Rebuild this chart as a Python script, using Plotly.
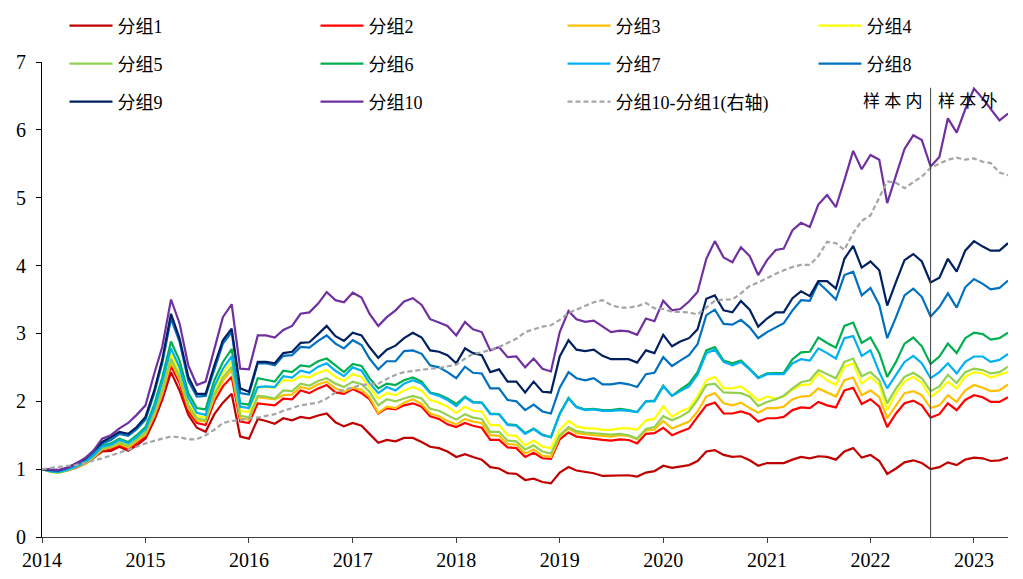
import plotly.graph_objects as go
import pandas as pd

months = [d.strftime("%Y-%m-%d") for d in pd.date_range("2014-01-01", periods=113, freq="MS")]

g1 = [1.00, 0.98, 0.97, 0.99, 1.03, 1.08, 1.17, 1.26, 1.27, 1.33, 1.27, 1.35,
      1.45, 1.72, 2.02, 2.43, 2.16, 1.80, 1.61, 1.55, 1.81, 1.98, 2.11, 1.48,
      1.45, 1.74, 1.71, 1.67, 1.75, 1.72, 1.77, 1.75, 1.79, 1.82, 1.69, 1.63,
      1.68, 1.64, 1.52, 1.39, 1.43, 1.41, 1.46, 1.46, 1.40, 1.33, 1.31, 1.26,
      1.18, 1.22, 1.18, 1.14, 1.03, 1.01, 0.94, 0.93, 0.84, 0.86, 0.81, 0.79,
      0.95, 1.03, 0.98, 0.96, 0.94, 0.90, 0.90, 0.91, 0.91, 0.89, 0.95, 0.97,
      1.05, 1.02, 1.04, 1.06, 1.12, 1.26, 1.28, 1.21, 1.18, 1.19, 1.13, 1.05,
      1.09, 1.09, 1.09, 1.14, 1.18, 1.16, 1.19, 1.18, 1.14, 1.26, 1.31, 1.17,
      1.21, 1.12, 0.93, 1.01, 1.10, 1.13, 1.09, 1.00, 1.03, 1.10, 1.06, 1.14,
      1.17, 1.16, 1.12, 1.13, 1.17]
g2 = [1.00, 0.97, 0.96, 0.98, 1.02, 1.08, 1.16, 1.28, 1.30, 1.35, 1.30, 1.39,
      1.48, 1.76, 2.07, 2.52, 2.27, 1.86, 1.68, 1.65, 2.00, 2.22, 2.36, 1.70,
      1.68, 1.97, 1.96, 1.94, 2.04, 2.03, 2.16, 2.12, 2.19, 2.24, 2.13, 2.11,
      2.18, 2.12, 2.03, 1.82, 1.90, 1.88, 1.94, 1.97, 1.92, 1.78, 1.74, 1.66,
      1.62, 1.68, 1.64, 1.61, 1.43, 1.43, 1.32, 1.31, 1.18, 1.24, 1.16, 1.15,
      1.44, 1.54, 1.48, 1.46, 1.44, 1.43, 1.42, 1.44, 1.43, 1.38, 1.52, 1.53,
      1.61, 1.50, 1.55, 1.60, 1.77, 1.94, 1.98, 1.82, 1.82, 1.85, 1.81, 1.70,
      1.75, 1.75, 1.77, 1.87, 1.91, 1.90, 1.99, 1.94, 1.91, 2.16, 2.20, 1.96,
      2.03, 1.92, 1.62, 1.82, 1.97, 2.01, 1.94, 1.76, 1.81, 1.97, 1.87, 2.02,
      2.09, 2.06, 1.99, 1.99, 2.06]
g3 = [1.00, 0.96, 0.95, 0.98, 1.03, 1.08, 1.17, 1.29, 1.32, 1.37, 1.32, 1.41,
      1.51, 1.79, 2.11, 2.58, 2.32, 1.90, 1.72, 1.70, 2.06, 2.30, 2.46, 1.75,
      1.73, 2.06, 2.05, 2.03, 2.09, 2.10, 2.21, 2.18, 2.25, 2.29, 2.19, 2.14,
      2.20, 2.17, 2.06, 1.83, 1.92, 1.90, 1.98, 2.03, 1.96, 1.82, 1.78, 1.71,
      1.66, 1.74, 1.70, 1.68, 1.50, 1.49, 1.37, 1.36, 1.23, 1.29, 1.20, 1.18,
      1.48, 1.60, 1.53, 1.51, 1.50, 1.49, 1.48, 1.50, 1.49, 1.44, 1.57, 1.58,
      1.71, 1.60, 1.65, 1.70, 1.85, 2.07, 2.12, 1.97, 1.94, 1.98, 1.90, 1.83,
      1.90, 1.90, 1.92, 2.03, 2.07, 2.08, 2.19, 2.13, 2.07, 2.31, 2.35, 2.09,
      2.16, 2.06, 1.75, 1.94, 2.12, 2.15, 2.09, 1.90, 1.94, 2.09, 1.99, 2.16,
      2.24, 2.20, 2.15, 2.16, 2.25]
g4 = [1.00, 0.97, 0.96, 0.99, 1.04, 1.10, 1.19, 1.32, 1.35, 1.41, 1.36, 1.45,
      1.57, 1.86, 2.22, 2.71, 2.44, 1.98, 1.78, 1.76, 2.16, 2.42, 2.58, 1.86,
      1.84, 2.21, 2.21, 2.20, 2.31, 2.30, 2.37, 2.35, 2.42, 2.46, 2.36, 2.30,
      2.40, 2.36, 2.21, 2.04, 2.12, 2.09, 2.16, 2.21, 2.16, 2.02, 1.98, 1.92,
      1.83, 1.92, 1.86, 1.85, 1.65, 1.65, 1.50, 1.49, 1.35, 1.42, 1.33, 1.31,
      1.58, 1.71, 1.63, 1.60, 1.60, 1.58, 1.58, 1.60, 1.60, 1.58, 1.72, 1.74,
      1.93, 1.77, 1.85, 1.90, 2.07, 2.31, 2.36, 2.19, 2.19, 2.22, 2.12, 2.01,
      2.07, 2.04, 2.07, 2.17, 2.24, 2.25, 2.41, 2.31, 2.24, 2.51, 2.56, 2.26,
      2.36, 2.24, 1.87, 2.12, 2.29, 2.36, 2.27, 2.06, 2.16, 2.29, 2.19, 2.36,
      2.43, 2.41, 2.35, 2.39, 2.43]
g5 = [1.00, 0.96, 0.95, 0.98, 1.03, 1.09, 1.18, 1.30, 1.33, 1.39, 1.34, 1.43,
      1.54, 1.82, 2.16, 2.63, 2.37, 1.94, 1.75, 1.72, 2.10, 2.35, 2.51, 1.79,
      1.76, 2.08, 2.07, 2.04, 2.16, 2.15, 2.26, 2.23, 2.30, 2.34, 2.26, 2.21,
      2.29, 2.25, 2.14, 1.94, 2.03, 2.00, 2.04, 2.08, 2.04, 1.89, 1.86, 1.80,
      1.73, 1.81, 1.76, 1.74, 1.55, 1.55, 1.42, 1.41, 1.29, 1.35, 1.26, 1.23,
      1.50, 1.62, 1.56, 1.54, 1.53, 1.52, 1.51, 1.52, 1.50, 1.45, 1.59, 1.62,
      1.78, 1.72, 1.77, 1.85, 2.02, 2.24, 2.26, 2.13, 2.12, 2.12, 2.07, 1.93,
      1.99, 2.03, 2.08, 2.19, 2.28, 2.31, 2.46, 2.40, 2.34, 2.58, 2.63, 2.37,
      2.43, 2.31, 1.97, 2.19, 2.36, 2.42, 2.34, 2.15, 2.22, 2.39, 2.27, 2.43,
      2.48, 2.46, 2.41, 2.43, 2.51]
g6 = [1.00, 0.97, 0.96, 1.00, 1.05, 1.11, 1.22, 1.35, 1.38, 1.45, 1.40, 1.50,
      1.62, 1.95, 2.35, 2.88, 2.60, 2.12, 1.90, 1.88, 2.31, 2.58, 2.77, 1.97,
      1.95, 2.34, 2.32, 2.29, 2.45, 2.43, 2.53, 2.51, 2.59, 2.63, 2.53, 2.43,
      2.55, 2.52, 2.34, 2.19, 2.26, 2.24, 2.31, 2.35, 2.29, 2.13, 2.10, 2.04,
      1.96, 2.07, 1.99, 1.98, 1.82, 1.81, 1.66, 1.65, 1.53, 1.60, 1.51, 1.47,
      1.82, 2.05, 1.92, 1.88, 1.89, 1.87, 1.87, 1.89, 1.87, 1.84, 2.00, 2.01,
      2.23, 2.08, 2.17, 2.26, 2.43, 2.75, 2.80, 2.60, 2.56, 2.60, 2.48, 2.35,
      2.41, 2.41, 2.42, 2.62, 2.72, 2.73, 2.94, 2.86, 2.79, 3.11, 3.16, 2.86,
      2.94, 2.71, 2.36, 2.58, 2.85, 2.94, 2.81, 2.55, 2.66, 2.85, 2.71, 2.93,
      3.01, 2.99, 2.91, 2.93, 3.01]
g7 = [1.00, 0.97, 0.96, 0.99, 1.04, 1.10, 1.20, 1.33, 1.36, 1.43, 1.38, 1.47,
      1.59, 1.90, 2.28, 2.78, 2.50, 2.05, 1.83, 1.80, 2.22, 2.48, 2.66, 1.92,
      1.90, 2.21, 2.22, 2.21, 2.37, 2.35, 2.45, 2.42, 2.51, 2.56, 2.45, 2.37,
      2.50, 2.45, 2.27, 2.12, 2.21, 2.16, 2.26, 2.31, 2.26, 2.12, 2.08, 2.02,
      1.93, 2.06, 1.98, 1.98, 1.81, 1.81, 1.65, 1.64, 1.52, 1.59, 1.50, 1.47,
      1.81, 2.04, 1.91, 1.87, 1.88, 1.86, 1.86, 1.87, 1.86, 1.84, 2.00, 2.00,
      2.22, 2.08, 2.15, 2.22, 2.39, 2.71, 2.76, 2.58, 2.53, 2.58, 2.47, 2.34,
      2.40, 2.40, 2.40, 2.56, 2.62, 2.60, 2.78, 2.71, 2.63, 2.93, 2.96, 2.67,
      2.75, 2.43, 2.19, 2.39, 2.58, 2.67, 2.56, 2.34, 2.43, 2.56, 2.41, 2.58,
      2.66, 2.66, 2.58, 2.61, 2.70]
g8 = [1.00, 0.98, 0.98, 1.02, 1.07, 1.14, 1.25, 1.38, 1.43, 1.52, 1.49, 1.59,
      1.73, 2.12, 2.56, 3.22, 2.88, 2.30, 2.07, 2.08, 2.48, 2.85, 3.02, 2.12,
      2.10, 2.56, 2.56, 2.53, 2.67, 2.68, 2.80, 2.79, 2.89, 2.97, 2.85, 2.78,
      2.90, 2.83, 2.63, 2.47, 2.59, 2.59, 2.74, 2.75, 2.70, 2.53, 2.50, 2.43,
      2.34, 2.51, 2.42, 2.41, 2.19, 2.19, 2.02, 2.00, 1.87, 1.95, 1.85, 1.82,
      2.20, 2.43, 2.34, 2.31, 2.34, 2.25, 2.25, 2.27, 2.25, 2.21, 2.40, 2.42,
      2.65, 2.52, 2.60, 2.68, 2.84, 3.27, 3.35, 3.14, 3.13, 3.20, 3.09, 2.93,
      3.02, 3.09, 3.15, 3.34, 3.49, 3.48, 3.75, 3.63, 3.50, 3.86, 3.91, 3.56,
      3.67, 3.42, 2.93, 3.24, 3.56, 3.66, 3.54, 3.25, 3.39, 3.59, 3.38, 3.68,
      3.80, 3.73, 3.65, 3.67, 3.78]
g9 = [1.00, 0.99, 0.98, 1.02, 1.08, 1.15, 1.27, 1.40, 1.47, 1.55, 1.52, 1.62,
      1.77, 2.16, 2.61, 3.29, 2.93, 2.36, 2.11, 2.11, 2.53, 2.90, 3.07, 2.19,
      2.14, 2.58, 2.58, 2.56, 2.71, 2.73, 2.86, 2.87, 2.99, 3.11, 2.96, 2.89,
      3.01, 2.97, 2.80, 2.64, 2.76, 2.82, 2.93, 3.01, 2.94, 2.75, 2.73, 2.68,
      2.56, 2.78, 2.71, 2.68, 2.43, 2.47, 2.29, 2.29, 2.13, 2.29, 2.14, 2.13,
      2.66, 2.90, 2.76, 2.74, 2.76, 2.67, 2.62, 2.62, 2.62, 2.57, 2.75, 2.71,
      2.98, 2.81, 2.88, 2.93, 3.06, 3.51, 3.56, 3.34, 3.31, 3.48, 3.35, 3.10,
      3.22, 3.31, 3.31, 3.52, 3.62, 3.55, 3.77, 3.77, 3.66, 4.10, 4.29, 3.97,
      4.06, 3.93, 3.41, 3.76, 4.08, 4.17, 4.06, 3.75, 3.82, 4.10, 3.91, 4.22,
      4.36, 4.28, 4.22, 4.22, 4.33]
g10 = [1.00, 0.99, 0.99, 1.02, 1.08, 1.16, 1.27, 1.45, 1.50, 1.60, 1.68, 1.80,
       1.94, 2.41, 2.80, 3.50, 3.15, 2.53, 2.24, 2.29, 2.78, 3.24, 3.43, 2.48,
       2.47, 2.97, 2.97, 2.94, 3.05, 3.11, 3.29, 3.31, 3.44, 3.61, 3.49, 3.46,
       3.60, 3.53, 3.29, 3.11, 3.24, 3.34, 3.47, 3.52, 3.42, 3.21, 3.16, 3.11,
       2.97, 3.17, 3.06, 3.02, 2.75, 2.80, 2.65, 2.66, 2.50, 2.63, 2.48, 2.44,
       3.02, 3.33, 3.21, 3.17, 3.19, 3.11, 3.02, 3.04, 3.03, 2.98, 3.22, 3.18,
       3.48, 3.34, 3.36, 3.47, 3.61, 4.10, 4.36, 4.12, 4.05, 4.27, 4.14, 3.86,
       4.08, 4.23, 4.25, 4.52, 4.63, 4.57, 4.90, 5.04, 4.86, 5.26, 5.69, 5.42,
       5.63, 5.56, 4.92, 5.33, 5.72, 5.92, 5.85, 5.46, 5.60, 6.17, 5.96, 6.30,
       6.61, 6.46, 6.30, 6.14, 6.24]
spread = [1.00, 1.02, 1.04, 1.05, 1.06, 1.09, 1.12, 1.16, 1.20, 1.24, 1.28, 1.33,
          1.38, 1.42, 1.45, 1.48, 1.47, 1.44, 1.44, 1.50, 1.58, 1.68, 1.71, 1.72,
          1.75, 1.76, 1.78, 1.81, 1.86, 1.90, 1.94, 1.96, 1.98, 2.04, 2.13, 2.17,
          2.21, 2.24, 2.25, 2.26, 2.33, 2.39, 2.43, 2.45, 2.47, 2.48, 2.49, 2.51,
          2.54, 2.63, 2.70, 2.72, 2.76, 2.80, 2.86, 2.92, 3.02, 3.06, 3.10, 3.12,
          3.20, 3.30, 3.35, 3.40, 3.46, 3.49, 3.42, 3.38, 3.38, 3.40, 3.45, 3.37,
          3.36, 3.32, 3.32, 3.31, 3.28, 3.38, 3.48, 3.50, 3.50, 3.59, 3.70, 3.75,
          3.82, 3.88, 3.93, 3.98, 4.01, 4.01, 4.14, 4.35, 4.33, 4.23, 4.48, 4.66,
          4.74, 5.00, 5.24, 5.22, 5.14, 5.23, 5.31, 5.44, 5.50, 5.56, 5.59, 5.56,
          5.58, 5.53, 5.51, 5.37, 5.33]

names = ["分组1", "分组2", "分组3", "分组4", "分组5", "分组6", "分组7", "分组8", "分组9", "分组10"]
series = [g1, g2, g3, g4, g5, g6, g7, g8, g9, g10]
colors = ["#C00000", "#FF0000", "#FFC000", "#FFFF00", "#92D050",
          "#00B050", "#00B0F0", "#0070C0", "#002060", "#7030A0"]
legends = ["legend", "legend", "legend2", "legend2",
           "legend3", "legend3", "legend4", "legend4",
           "legend5", "legend5"]
year_ticks = [f"{y}-01-01" for y in range(2014, 2024)]
year_labels = [str(y) for y in range(2014, 2024)]
split_date = "2022-08-01"

FONT = "Liberation Serif, Times New Roman, Noto Sans CJK SC, serif"

fig = go.Figure()
for nm, s, c, lg in zip(names, series, colors, legends):
    fig.add_trace(go.Scatter(x=months, y=s, name=nm, mode="lines",
                             line=dict(color=c, width=2.2), legend=lg))
fig.add_trace(go.Scatter(x=months, y=spread, name="分组10-分组1(右轴)", mode="lines",
                         line=dict(color="#A5A5A5", width=2.2, dash="5px,3px"),
                         yaxis="y2", legend="legend6"))

fig.add_shape(type="line", xref="x", yref="y", x0=split_date, x1=split_date,
              y0=0, y1=6.62, line=dict(color="#404040", width=1))

fig.add_annotation(text="样 本 内", xref="paper", yref="paper", x=0.881, y=0.916,
                   xanchor="center", yanchor="middle",
                   showarrow=False, font=dict(family=FONT, size=17, color="black"))
fig.add_annotation(text="样 本 外", xref="paper", yref="paper", x=0.959, y=0.916,
                   xanchor="center", yanchor="middle",
                   showarrow=False, font=dict(family=FONT, size=17, color="black"))

leg_common = dict(orientation="h", xanchor="left", yanchor="middle",
                  entrywidth=193, entrywidthmode="pixels",
                  bgcolor="rgba(0,0,0,0)", font=dict(family=FONT, size=18, color="black"),
                  itemwidth=43, itemclick=False)
xa, xb = 0.0233, 0.5388
ya, yb, yc = 1.076, 0.996, 0.916

fig.update_layout(
    width=1015, height=571,
    margin=dict(l=34, r=15, t=54, b=42, autoexpand=False),
    paper_bgcolor="white", plot_bgcolor="white",
    font=dict(family=FONT, size=18, color="black"),
    showlegend=True,
    legend=dict(x=xa, y=ya, **leg_common),
    legend2=dict(x=xb, y=ya, **leg_common),
    legend3=dict(x=xa, y=yb, **leg_common),
    legend4=dict(x=xb, y=yb, **leg_common),
    legend5=dict(x=xa, y=yc, **leg_common),
    legend6=dict(x=xb, y=yc, **leg_common),
    xaxis=dict(type="date", range=["2014-01-01", "2023-05-01"],
               tickvals=year_ticks, ticktext=year_labels,
               showgrid=False, zeroline=False,
               showline=True, linecolor="#404040", linewidth=1,
               ticks="outside", ticklen=5, tickcolor="#404040",
               tickfont=dict(family=FONT, size=20)),
    yaxis=dict(range=[0, 7], dtick=1, showgrid=False, zeroline=False,
               showline=True, linecolor="black", linewidth=1,
               ticks="outside", ticklen=5, tickcolor="black",
               ticklabelstandoff=6,
               tickfont=dict(family=FONT, size=20)),
    yaxis2=dict(range=[0, 7], overlaying="y", side="right",
                showticklabels=False, showgrid=False, zeroline=False,
                showline=False, ticks=""),
)

fig.write_html("out.html")
